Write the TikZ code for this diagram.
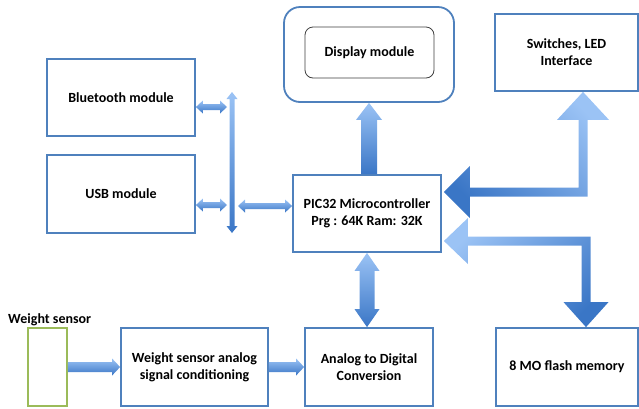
\documentclass[tikz,border=0pt]{standalone}
\usepackage{fontspec}
\setmainfont{Carlito}
\usetikzlibrary{calc}
\definecolor{boxblue}{RGB}{79,129,189}
\definecolor{arrlight}{RGB}{155,195,245}
\definecolor{arrdark}{RGB}{58,118,198}
\definecolor{sensgreen}{RGB}{155,187,89}
\tikzset{
  lbl/.style={font=\fontsize{14}{17}\selectfont\bfseries, align=center},
  blk/.style={lbl, draw=boxblue, line width=1.8pt, fill=white, inner sep=0pt},
  vshade/.style={top color=arrlight, bottom color=arrdark},
  dshadeR/.style={top color=arrlight, bottom color=arrdark, shading angle=-45},
  dshadeL/.style={top color=arrlight, bottom color=arrdark, shading angle=45},
}
% vertical double arrow: #1 style, #2 top, #3 bottom, #4 shaft half, #5 head half, #6 head length
\newcommand\vdarr[6]{%
  \shade[#1] let \p1=(#2), \p2=(#3) in
  (\x1,\y1) -- (\x1+#5pt,\y1-#6pt) -- (\x1+#4pt,\y1-#6pt) -- (\x1+#4pt,\y2+#6pt) --
  (\x1+#5pt,\y2+#6pt) -- (\x1,\y2) -- (\x1-#5pt,\y2+#6pt) -- (\x1-#4pt,\y2+#6pt) --
  (\x1-#4pt,\y1-#6pt) -- (\x1-#5pt,\y1-#6pt) -- cycle;}
% vertical up arrow: #2 tip (top), #3 base (bottom)
\newcommand\vuarr[6]{%
  \shade[#1] let \p1=(#2), \p2=(#3) in
  (\x1,\y1) -- (\x1+#5pt,\y1-#6pt) -- (\x1+#4pt,\y1-#6pt) -- (\x1+#4pt,\y2) --
  (\x1-#4pt,\y2) -- (\x1-#4pt,\y1-#6pt) -- (\x1-#5pt,\y1-#6pt) -- cycle;}
% horizontal double arrow: #2 left, #3 right
\newcommand\hdarr[6]{%
  \shade[#1] let \p1=(#2), \p2=(#3) in
  (\x1,\y1) -- (\x1+#6pt,\y1+#5pt) -- (\x1+#6pt,\y1+#4pt) -- (\x2-#6pt,\y1+#4pt) --
  (\x2-#6pt,\y1+#5pt) -- (\x2,\y1) -- (\x2-#6pt,\y1-#5pt) -- (\x2-#6pt,\y1-#4pt) --
  (\x1+#6pt,\y1-#4pt) -- (\x1+#6pt,\y1-#5pt) -- cycle;}
% horizontal right arrow: #2 tail, #3 tip
\newcommand\hrarr[6]{%
  \shade[#1] let \p1=(#2), \p2=(#3) in
  (\x1,\y1+#4pt) -- (\x2-#6pt,\y1+#4pt) -- (\x2-#6pt,\y1+#5pt) -- (\x2,\y1) --
  (\x2-#6pt,\y1-#5pt) -- (\x2-#6pt,\y1-#4pt) -- (\x1,\y1-#4pt) -- cycle;}
\begin{document}
\begin{tikzpicture}[x=1pt,y=-1pt]
\useasboundingbox (0,0) rectangle (639,408);
% boxes
\node[blk, minimum width=148pt, minimum height=77pt] (bt) at (121,97.5) {Bluetooth module};
\node[blk, minimum width=148pt, minimum height=78pt] (usb) at (121,194) {USB module};
\node[blk, minimum width=148pt, minimum height=77pt] (pic) at (367,213.5) {PIC32 Microcontroller\\Prg : 64K Ram: 32K};
\node[blk, minimum width=170pt, minimum height=95pt, rounded corners=16pt] (dispo) at (369,54.5) {};
\node[lbl, draw=black!75, line width=0.8pt, rounded corners=8pt, minimum width=129pt, minimum height=51pt, inner sep=0pt] (dispi) at (369.5,52.5) {Display module};
\node[blk, minimum width=143pt, minimum height=77pt] (sw) at (566.5,52.5) {Switches, LED\\Interface};
\node[blk, minimum width=142pt, minimum height=78pt] (flash) at (567,367) {8 MO flash memory};
\node[blk, minimum width=128pt, minimum height=78pt] (adc) at (369,367) {Analog to Digital\\Conversion};
\node[blk, minimum width=147pt, minimum height=78pt] (cond) at (194.5,367) {Weight sensor analog\\signal conditioning};
\node[draw=sensgreen, line width=1.8pt, fill=white, minimum width=39pt, minimum height=78pt, inner sep=0pt] (ws) at (47.5,367) {};
\node[lbl, anchor=base west, inner sep=0pt] (wsl) at (8,323) {Weight sensor};
% helper coordinates
\coordinate (busT) at (232,92);
\coordinate (busB) at (232,233);
\coordinate (j1) at (227,107);
\coordinate (j2) at (227,205);
\coordinate (j3) at (238,206);
\coordinate (swin) at ($(sw.south)+(16.5,0)$);
\coordinate (picin1) at ($(pic.east)+(2,-21.5)$);
\coordinate (picin2) at ($(pic.east)+(2,27.5)$);
\coordinate (flin) at ($(flash.north)+(19,0)$);
% bus and small arrows
\vdarr{vshade}{busT}{busB}{2.5}{5.5}{7}
\hdarr{vshade}{bt.east |- j1}{j1}{3}{6.5}{7}
\hdarr{vshade}{usb.east |- j2}{j2}{3}{6.5}{7}
\hdarr{vshade}{j3}{pic.west |- j3}{3}{6.5}{7}
% display and ADC arrows
\vuarr{vshade}{dispo.south}{pic.north}{8}{13}{17}
\vdarr{vshade}{pic.south}{adc.north}{7.5}{12.5}{18}
% sensor chain
\hrarr{vshade}{ws.east}{cond.west}{5}{8.5}{8}
\hrarr{vshade}{cond.east}{adc.west}{5}{8.5}{8}
% switches arrow (L-shaped double)
\shade[dshadeR] let \p1=(swin), \p2=(picin1) in
  (\x1,\y1) -- (\x1+26pt,\y1-28pt) -- (\x1+4.5pt,\y1-28pt) -- (\x1+4.5pt,\y2-4.5pt) --
  (\x2+26pt,\y2-4.5pt) -- (\x2+26pt,\y2-26pt) -- (\x2,\y2) -- (\x2+26pt,\y2+26pt) --
  (\x2+26pt,\y2+4.5pt) -- (\x1-4.5pt,\y2+4.5pt) -- (\x1-4.5pt,\y1-28pt) -- (\x1-26pt,\y1-28pt) -- cycle;
% flash arrow (L-shaped double)
\shade[dshadeL] let \p1=(picin2), \p2=(flin) in
  (\x1,\y1) -- (\x1+24pt,\y1+23pt) -- (\x1+24pt,\y1+4.5pt) -- (\x2+4.5pt,\y1+4.5pt) --
  (\x2+4.5pt,\y2+25pt) -- (\x2+22.5pt,\y2+25pt) -- (\x2,\y2) -- (\x2-22.5pt,\y2+25pt) --
  (\x2-4.5pt,\y2+25pt) -- (\x2-4.5pt,\y1-4.5pt) -- (\x1+24pt,\y1-4.5pt) -- (\x1+24pt,\y1-23pt) -- cycle;
\end{tikzpicture}
\end{document}
